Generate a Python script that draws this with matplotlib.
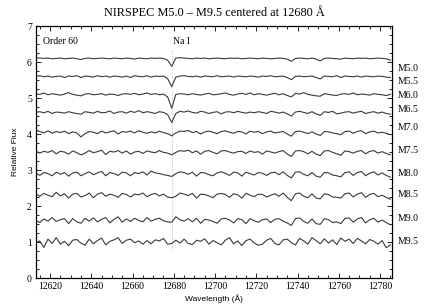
import numpy as np
import matplotlib
matplotlib.use("Agg")
import matplotlib.pyplot as plt
from matplotlib.ticker import MultipleLocator
import matplotlib.transforms as mtransforms

# wavelength sampling of the spectra (Angstrom)
wave_start = 12613.0
wave_step = 2.0
n_pix = 87

# spectral types and vertical offsets
sptypes = ['M5.0', 'M5.5', 'M6.0', 'M6.5', 'M7.0',
           'M7.5', 'M8.0', 'M8.5', 'M9.0', 'M9.5']
offsets = [6.1, 5.6, 5.1, 4.6, 4.05, 3.5, 2.9, 2.3, 1.6, 1.0]
label_y = [5.83, 5.45, 5.06, 4.67, 4.17, 3.53, 2.91, 2.32, 1.64, 1.01]

# flux deviations from the continuum, in units of 0.01
m50 = [2, 1, 0, 1, -1, 0, 1, -1, 0, 1,
       -1, -3, 0, 1, -1, 0, 1, 0, -1, 1,
       0, -1, 1, 0, -2, 1, 0, -1, 1, 0,
       1, 0, -5, -22, 1, 2, 1, 0, -1, 1,
       0, 1, -1, 0, 1, 0, -1, 1, 0, 1,
       -1, 0, 1, 0, -1, 1, 0, -1, 0, 1,
       0, -2, -8, 0, 1, 0, -1, 1, -2, -7,
       0, 1, 0, -1, -2, 1, 0, -1, 1, 0,
       1, -1, 0, 1, 0, -1, -5]
m55 = [0, 2, -1, 1, -2, 0, 1, -3, 1, 0,
       2, -3, 1, 0, -2, 2, -1, 1, -2, 1,
       0, -2, 1, -3, 2, 0, -1, 2, -2, 1,
       0, 1, -6, -28, -2, 1, 2, 0, -1, 1,
       -2, 1, 0, -1, 2, -1, 0, 1, -2, 1,
       0, -1, 1, 0, -2, 1, 0, 2, -1, 0,
       1, -3, -9, 0, 1, -1, 0, 1, -3, -7,
       1, 0, -1, 2, -3, 1, 0, -1, 1, -2,
       1, 0, -1, 1, 0, -2, -3]
m60 = [1, 0, 4, -1, 2, 0, -2, 1, 5, 0,
       -2, -4, 1, 2, -1, 0, 2, -2, 1, 0,
       -3, 1, 2, 0, 3, -1, 1, 4, 0, 2,
       -1, 1, -7, -38, 0, 2, 1, -1, 2, 0,
       -2, 1, 3, -1, 0, 2, 4, 0, -2, 1,
       3, 0, 4, -1, 2, 0, -2, 1, 3, -1,
       2, -3, -7, 3, 1, 5, 0, -2, -4, -5,
       2, 0, -2, -3, 1, 2, 0, 4, -1, 1,
       0, -2, 2, 0, -1, -3, 0]
m65 = [0, 2, -1, 3, -3, 1, 0, -2, 2, -1,
       -3, -5, 2, 0, -2, 3, -1, 0, 4, -3,
       1, 2, -2, 3, 0, 5, -1, 2, 0, -3,
       2, 0, -6, -28, -3, 3, 1, 4, 0, -2,
       3, 1, -3, 0, 2, -4, 1, 2, -1, 3,
       0, -2, 1, -1, 2, 0, -3, 3, 1, -2,
       1, -4, -10, 1, 3, 0, -3, 2, -4, -8,
       2, 0, 3, -4, -2, 1, 2, -2, 1, 3,
       -3, 0, 2, -2, 1, -3, -5]
m70 = [6, 2, -2, 4, -3, 2, -1, 3, -4, 1,
       -2, -13, -4, 2, 0, -4, 3, -2, 1, 4,
       -5, 2, 0, 3, -2, 4, 0, -3, 1, -2,
       3, -1, -4, -10, -2, 3, 2, 5, -1, 2,
       -5, 1, 3, 0, -4, 2, 4, 0, -3, 2,
       1, -5, 3, 0, 2, -4, 1, 3, -2, 0,
       2, -5, -11, 2, 3, 0, -4, 1, -5, -9,
       2, 1, -2, -4, -7, 2, 3, -3, 2, 4,
       -4, 1, 3, -2, 0, -3, -7]
m75 = [3, -3, 2, -1, 4, -5, 2, 0, -6, 3,
       -2, -8, -3, 4, -2, 1, 5, -7, 2, 0,
       4, -3, 3, -6, 0, 2, -4, 3, 0, -2,
       4, -1, -3, -8, -1, 4, 2, 5, -2, 3,
       -6, 2, 4, -1, -5, 3, 4, 0, -3, 1,
       2, -4, 3, -1, 1, -6, 3, 0, -3, 1,
       4, -6, -12, 3, 4, 1, -5, 2, -6, -10,
       3, 4, -1, -5, -9, 3, 1, -3, 2, 4,
       -5, 2, 4, -3, 1, -4, -8]
m80 = [2, -5, 3, 0, -6, 4, -2, 3, -7, 2,
       4, -6, 0, 5, -3, 2, 6, -6, 3, 0,
       -5, 4, 2, -6, 3, 0, 5, -4, 7, 2,
       0, -3, -5, -8, 0, 5, 3, -2, 4, -7,
       3, 2, -3, -6, 2, 5, 1, -5, 4, 2,
       -7, 4, 0, -4, 3, 1, -5, 2, 4, -3,
       5, -5, -12, 4, 5, -2, -6, 3, -7, -10,
       3, 2, -4, -6, -9, 3, 5, -5, 3, 6,
       -6, 1, 5, -4, 2, -5, -10]
m85 = [4, -3, 5, 0, -4, 8, -2, 4, -8, 3,
       5, -5, -1, 6, -7, 3, 7, -3, 3, 0,
       -6, 5, 2, -5, 3, 1, 6, -4, 2, 5,
       -2, 3, -5, -7, -3, 6, 3, -1, 5, -8,
       3, 2, -2, -7, 3, 5, 2, -6, 4, 1,
       -8, 5, 0, -4, 3, 2, -5, 0, 4, -3,
       6, -6, -15, 4, 6, -3, -7, 4, -8, -10,
       4, 2, -5, -6, -8, 4, 6, -5, 3, 7,
       -6, 2, 5, -4, 0, -6, -11]
m90 = [0, -6, 4, -2, 8, -3, 2, 5, -9, 5,
       -4, -8, 6, -2, 7, -4, 3, 8, -7, 3,
       10, -5, 4, -3, 6, 0, -4, 8, -2, 3,
       6, -1, -4, -5, 10, 2, -2, 5, -4, 6,
       -8, 3, 1, -3, -8, 4, 6, 1, -7, 5,
       2, -9, 5, -1, -5, 2, 4, -6, 3, 5,
       -2, -7, -14, 5, 7, -3, -8, 4, -9, -11,
       5, 2, -6, -4, -9, 5, 7, -5, 4, 8,
       -7, 2, 6, -5, 1, -6, -12]
m95 = [-2, 3, -15, 8, -4, 12, -6, 2, -10, 5,
       7, -3, -9, 8, -5, 4, 11, -8, 2, 6,
       12, -4, 5, 8, -2, 3, -6, 4, -5, 6,
       3, 10, -6, -4, 5, -3, 8, -4, -7, 5,
       2, 9, -6, 4, -2, -8, 5, 12, -5, 3,
       -10, 4, 8, -3, -9, -6, 5, 10, -4, -8,
       6, 8, -2, -8, 10, 3, -6, 12, 4, -5,
       9, -3, 6, -7, 11, 2, 8, -4, 10, 3,
       -5, 7, 2, -6, 4, -16, -8]
spectra = [m50, m55, m60, m65, m70, m75, m80, m85, m90, m95]

na_wave = 12679.1

wave = wave_start + wave_step * np.arange(n_pix)

fig = plt.figure(figsize=(4.36, 3.05), dpi=100)
ax = fig.add_axes([0.0826, 0.0885, 0.8165, 0.8262])

serif = ['Liberation Serif', 'DejaVu Serif']
sans = ['Liberation Sans', 'DejaVu Sans']

ax.vlines(na_wave, 0.78, 6.35, colors='#bbbbbb', linestyles=':', linewidth=0.7)

for spec, off in zip(spectra, offsets):
    ax.plot(wave, off + 0.01 * np.array(spec), color='#3a3a3a', linewidth=0.8)

trans = mtransforms.blended_transform_factory(ax.transAxes, ax.transData)
for name, yl in zip(sptypes, label_y):
    ax.text(1.017, yl, name, transform=trans, fontsize=7, family=serif,
            va='center', ha='left')

ax.text(12616.5, 6.56, 'Order 60', fontsize=7, family=serif, va='center')
ax.text(12679.5, 6.56, 'Na I', fontsize=7, family=serif, va='center')

ax.set_xlim(12613.2, 12785.8)
ax.set_ylim(0, 7)
ax.xaxis.set_major_locator(MultipleLocator(20))
ax.xaxis.set_minor_locator(MultipleLocator(5))
ax.yaxis.set_major_locator(MultipleLocator(1))
ax.yaxis.set_minor_locator(MultipleLocator(0.25))
ax.tick_params(which='both', direction='in', top=True, right=True,
               labelsize=7, width=0.6, pad=3)
ax.tick_params(which='major', length=3.5)
ax.tick_params(which='minor', length=2)
for lab in ax.get_xticklabels() + ax.get_yticklabels():
    lab.set_family(serif)
for sp in ax.spines.values():
    sp.set_linewidth(0.9)

ax.set_xlabel('Wavelength (Å)', fontsize=6, family=sans, labelpad=2)
ax.set_ylabel('Relative Flux', fontsize=6, family=sans, labelpad=6)
ax.set_title('NIRSPEC M5.0 – M9.5 centered at 12680 Å', fontsize=8.8,
             family=serif, pad=7)

fig.savefig('out.png', dpi=100)
